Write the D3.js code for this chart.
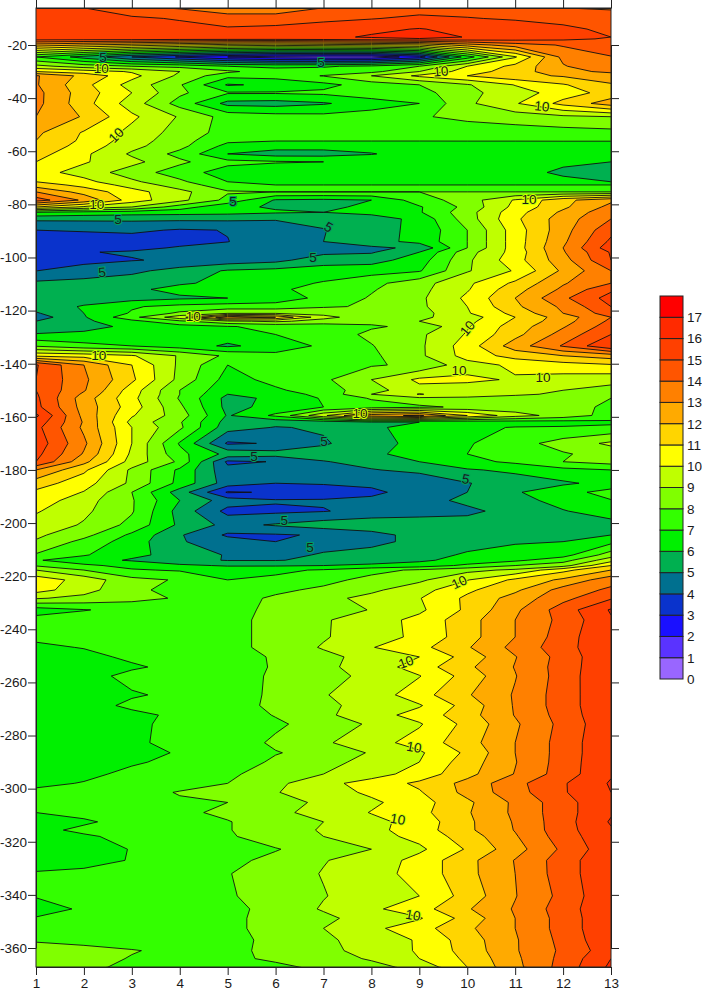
<!DOCTYPE html>
<html>
 <head>
  <meta charset="utf-8">
  <title>Contour plot</title>
  <style>
  body { margin: 0; background: #fff; }
  svg { display: block; }
  text { font-family: "Liberation Sans", Arial, sans-serif; font-size: 13.5px; fill: #1a1a1a; }
  .axis path, .axis line { stroke: #222; }
  </style>
  <script src="https://cdnjs.cloudflare.com/ajax/libs/d3/7.8.3/d3.min.js"></script>
 </head>
 <body>
  <script>
   // months along x, depth (m) of each grid row, one row of grid per depth
   const months = [1,2,3,4,5,6,7,8,9,10,11,12,13];
   const depths = [-6,-10,-14,-17,-17.7,-20,-24.5,-28,-30,-31.6,-35,-38,-42,-47,-53,-56,-58,-61,-64,-68,-71.5,-72.7,-75.3,-78.4,-81,-83,-85.5,-89.7,-94,-96.4,-98,-101,-105,-109.7,-112,-115.3,-118.5,-121,-122.5,-124,-126,-129,-133.3,-137,-140.5,-146,-150,-151.5,-153,-156.3,-159.5,-162,-164,-170,-174,-176.9,-180,-185,-188.4,-191.5,-195.5,-200.7,-204.5,-207,-212,-214,-216,-217.7,-221.4,-225.2,-228.3,-232.7,-236.5,-242.9,-246.8,-250.4,-254.2,-257.6,-264.7,-268.7,-272.3,-275.7,-282.7,-286.5,-290,-294.5,-298,-301.4,-305.2,-309,-312.5,-315.6,-318,-322.8,-327,-332,-340.4,-345.3,-348.8,-352.6,-357,-361,-364,-367.2];
   const grid = [
    [15.6,15,14.2,13.9,13.2,13.2,14,14.4,14.6,14.6,14.2,14,13.9],
    [15.8,15.5,15.2,14.9,14.6,14.6,14.8,14.95,15.2,15.05,14.9,14.7,14.4],
    [15.9,15.8,15.6,15.4,15.1,15.2,15.4,15.8,16.05,15.7,15.5,15.2,14.8],
    [15.9,15.8,15.7,15.6,15.5,15.5,15.8,16.1,16.4,15.95,15.7,15.3,15],
    [15.5,15.5,15.5,15.4,15.4,15.4,15.5,15.7,15.9,15.6,15.4,15.2,14.9],
    [12.5,12,11.5,11,10.5,10.3,10.5,10.7,11,12.5,13.5,14.1,14.6],
    [7,5.6,4,2.9,2,1.5,1.3,1.3,2.5,6.5,9.9,13.3,13.95],
    [9.3,8.5,8,7.7,7,6.8,6.9,7.2,8,10,11.3,12.9,14],
    [11,10.5,9.9,9,8.2,7.4,7.4,7.7,9,10.5,11.5,12.7,13.2],
    [13.1,11.7,10.3,8.8,7.3,7.4,8.05,9,10.2,11,11.7,12.1,12.5],
    [13.1,11.3,9.6,8.1,5.9,6.2,6.7,7.5,8,8.9,10.05,10.9,11.9],
    [13.3,11.5,10,8.2,7.1,7.1,7.2,7.6,7.6,8.75,9.5,10.5,11.4],
    [13.3,11.4,9.5,7.6,5.7,5.6,5.9,6.5,7,8.8,9.9,11.3,12.5],
    [13,11.9,10.2,8.9,7.6,7.4,7.3,7.5,7.9,8.25,8.5,8.8,9],
    [12.2,10.9,9.7,8.6,7.6,7.4,7.3,7.3,7.3,7.4,7.5,7.6,7.7],
    [12,10.8,9.5,8.4,7.2,7.05,7.05,7.05,7.05,7.05,7.05,7.05,7.05],
    [11.8,10.6,9.3,8.3,6.7,6.4,6.4,6.4,6.4,6.5,6.5,6.6,6.6],
    [11.4,10.2,8.85,7.7,6,5.6,5.6,5.95,6.4,6.5,6.5,6.5,6.4],
    [11,10.1,9.3,8.2,7.3,7.1,7,6.6,6.3,6.2,6.3,6.2,6],
    [10.4,9.6,8.5,7.5,6.5,6.2,6.2,6.2,6.2,6.2,6.4,5.8,5.3],
    [11,10.3,9.2,8.2,7,6.6,6.6,6.6,6.6,6.6,6.6,6.3,6],
    [11.5,10.7,9.6,8.5,7.4,7,7,7,7,7,7,7,7],
    [13,11.6,10.4,9.3,8.1,8,8,8,8,8,8,8,8],
    [14.5,12.8,10.5,9.3,7.7,5.9,5.8,6,7.5,8.5,10.1,11.7,12.8],
    [11,9.8,9,7.5,6.2,5.9,5.8,6.2,6.9,8.3,10.3,11.8,13.3],
    [7,6.7,6.5,6.4,6.3,6.1,6,6.3,6.9,8.6,10.6,12.2,13.7],
    [5.2,5.2,5.2,5.2,5.2,5.1,5.3,5.5,6.3,8.5,10.8,12.5,14],
    [4,4.1,4.2,3.9,4.03,4.3,4.95,5.7,6.2,8,10.5,12.6,14.7],
    [3.3,3.4,3.5,3.7,3.98,4.5,5,5.6,6.3,8,10.5,12.8,15.2],
    [3.3,3.5,3.75,4.1,4.3,4.5,4.7,4.8,5.2,8,10.5,13,15.6],
    [3.7,3.95,4.1,4.3,4.45,4.6,4.75,4.9,6,8.6,10.4,12.9,15.1],
    [3.6,3.8,3.95,4.15,4.4,4.7,5.6,5.6,6.5,8.8,10.6,12.6,15],
    [3.99,4.3,4.75,5.4,6.1,6.3,6.4,6.6,6.9,8.9,10.1,12.2,14],
    [5.2,5.4,5.6,5.9,6.2,6.6,7.1,7.7,8.6,9.8,11.2,12.9,14],
    [5.2,5.4,5.8,6.3,6.5,6.9,7.2,7.9,8.7,9.9,11.6,13.2,14.8],
    [5.3,5.5,5.6,5.85,6,6.4,7.3,8.1,8.8,10.2,12,13.8,15.4],
    [5.4,6.1,6.9,7.3,7.5,7.5,7.9,8.1,8.8,10,11.8,13.2,15],
    [4.9,6,7.1,8.2,8.9,8.9,8.7,8.3,8.6,9.9,11.3,13,14.5],
    [4.5,5.9,7.7,9.6,12.8,12,9.3,8.4,8.8,9.5,11,12.5,14],
    [5,5.8,6.7,7.8,8.8,9.2,8.6,8.2,9,9.7,11.2,12.6,14.2],
    [5.2,5.7,6.2,6.6,6.95,7.2,7.4,7.9,8.2,9.9,11.5,12.9,14.5],
    [6.1,6.2,6.3,6.4,6.5,7,7.5,8.2,8.8,10.1,11.7,13.4,15],
    [7.9,7.3,7,6.5,5.85,6.4,7.2,7.95,8.8,10.5,12.5,14.1,15.9],
    [10.8,10.6,10.1,8.9,7.8,7.3,7.2,7.8,8.8,10.4,11.4,12,12.5],
    [15.1,13,11,8.8,7,7.2,7.6,7.9,8.2,9.6,10.2,10.6,10.9],
    [15,13.2,11.2,8.7,6.6,7.3,7.8,9,10.2,10.2,9.9,9.6,9.4],
    [15,13.1,10.5,8,6.3,6.85,7.5,8.6,9.7,9.5,9.3,9,8.6],
    [15.1,12.8,10.4,8,6,6.5,7.3,9,10.05,9.5,9.2,8.8,8.4],
    [15.2,12.5,10.3,7.9,5.7,6.2,7.1,8.1,8.8,8.8,8.5,8.2,8],
    [15.3,12.6,10.5,8.2,5.7,6.3,7,7.5,7.8,8.2,8.4,8.2,7.9],
    [16.2,12.7,10.1,8.5,5.9,7.2,9.8,12.6,13.2,11,9.4,8.6,7.6],
    [15.6,12.9,9.7,8.1,5.6,5.3,5.4,5.95,6,6.3,6.5,6.6,6.8],
    [15.3,12.8,10,8.2,5.4,4.95,5.1,5.85,6.3,6.8,7.05,7.1,7.2],
    [15.6,13.2,10,6.9,3.85,4.1,4.9,5.5,6.4,6.9,7.6,8.4,9.2],
    [15.3,12.9,9.8,7.3,5.7,5.4,5.4,5.8,6.4,7,7.3,7.9,8.4],
    [15,12.3,9.6,7.8,3.8,4.05,4.95,5.3,6,6.7,7.2,8,8.4],
    [13,11.2,8.8,6.8,4.3,4.4,4.6,4.95,5.2,5.9,6.2,6.7,7],
    [11.5,10.4,8.8,6.7,4.5,4,4.1,4.2,4.4,4.95,5.5,5.85,6.3],
    [10.8,9.95,8,5.5,2.9,3.1,3.4,3.8,4.4,5,5.9,6.6,7.4],
    [10.6,9.4,8.1,6,4.5,4.1,4.1,4.2,4.5,5.3,5.7,6.3,6.95],
    [10.1,9.2,8.1,5.6,3.7,3.8,3.95,4.3,4.55,4.7,5.5,5.95,6.4],
    [9.6,8.9,7.7,5.8,4.7,5.1,5.5,5.7,5.6,5.6,5.7,5.8,5.7],
    [9.2,8.3,6.8,5.1,3.85,3.9,4.1,4.6,5.4,5.7,5.8,5.9,6],
    [8.9,7.7,6.5,5.1,4.4,4,4.6,4.7,5.3,5.7,5.9,6,6.7],
    [7.9,7.1,6.2,5.7,4.9,4.7,5.1,5.4,5.7,6.1,6.4,6.6,8.5],
    [7.1,6.4,5.9,5.3,4.95,4.95,5.2,5.5,5.8,6.4,6.8,7.6,9.6],
    [7.9,7.2,6.7,6.2,5.9,5.9,6,6.2,6.5,7.2,8,8.6,11],
    [9,8,7.1,6.9,6.7,6.8,7.1,7.7,8.15,8.7,9.2,10.7,12],
    [10.6,9.6,8.3,7.9,7,7.2,7.7,8.3,8.8,9.95,11.2,12.2,13.6],
    [10.4,9.4,8.2,7.7,7.4,7.8,8.2,8.8,9.6,10.8,11.8,13.4,14.2],
    [9.1,8.7,8.3,7.9,7.6,8.15,8.7,9.3,9.95,11.2,12.4,13.7,14.9],
    [6.5,6.95,7.3,7.5,7.7,8.2,8.5,9.05,9.8,11.2,12.8,14.5,16.1],
    [7.4,7.5,7.6,7.7,7.8,8.2,8.9,9.5,10.3,11.6,13,14.3,15.9],
    [7.2,7.3,7.4,7.5,7.7,8.3,8.9,9.6,10.2,11.6,13,14.5,16],
    [6.8,7.05,7.3,7.5,7.7,8.3,9.1,9.95,10.7,11.9,13.3,14.6,15.9],
    [6.5,6.7,7.2,7.4,7.6,8.1,8.7,9.4,10,11.4,12.95,14.4,15.9],
    [6.3,6.5,6.85,7.3,7.5,8.1,8.8,9.4,10.5,11.8,13.05,14.45,15.9],
    [6.3,6.6,7.3,7.5,7.7,8.1,8.6,9.3,9.95,11.4,12.95,14.45,16],
    [6.4,6.6,6.9,7.2,7.5,8.2,8.95,9.4,10.6,11.9,13.1,14.5,15.9],
    [6.3,6.6,7.2,7.4,7.6,8.2,8.7,9.5,9.9,11.4,13.1,14.5,15.9],
    [6.3,6.5,6.75,7.2,7.5,8.05,8.8,9.55,10.4,11.6,13.05,14.4,15.9],
    [6.2,6.4,6.85,7.2,7.4,7.85,8.4,9.15,9.9,11.3,12.85,14.3,15.8],
    [6.2,6.4,6.85,7.25,7.5,8.15,8.85,9.6,10.4,11.6,13,14.4,15.9],
    [6.1,6.3,6.6,7.1,7.4,7.95,8.3,9.1,9.85,11.2,13,14.4,15.9],
    [6.2,6.4,6.9,7.2,7.5,8.15,8.7,9.3,10,11.5,12.95,14.45,15.9],
    [6.5,6.8,7.2,7.5,7.8,8.5,9,9.6,10.4,11.7,13.05,14.5,15.9],
    [6.8,7.05,7.5,7.7,8,8.75,9.7,10.4,11.2,12.3,13.7,14.9,16.1],
    [7.2,7.4,7.7,8.05,8.4,8.95,9.5,10.2,10.9,12.3,13.6,14.9,16],
    [7.3,7.5,7.8,7.9,8,8.6,9.2,9.8,10.6,11.8,13.2,14.6,15.9],
    [7,7.2,7.5,7.8,8.2,8.8,9.3,10.05,10.7,11.9,13.2,14.6,15.9],
    [6.7,6.9,7.25,7.6,7.95,8.5,9,9.7,10.4,11.8,13.1,14.6,16.1],
    [6.8,7.15,7.4,7.7,7.95,8.5,9.1,9.7,10.5,11.8,13.05,14.6,15.9],
    [6.7,6.9,7.2,7.6,7.9,8.4,9,9.6,10.3,11.5,12.9,14.5,15.8],
    [6.4,6.5,7.05,7.3,7.6,7.95,8.4,9,9.8,11.1,12.6,14.2,15.7],
    [6.5,6.7,7.05,7.3,7.8,8.2,8.95,9.4,10.35,11.7,13.05,14.5,15.9],
    [7.1,7.2,7.3,7.55,7.95,8.55,9.05,9.6,10.35,11.7,13,14.5,15.9],
    [7.1,7.4,7.5,7.7,7.9,8.4,8.95,9.5,10,11.4,12.95,14.3,15.9],
    [6.4,7.2,7.4,7.5,7.7,8.35,9.1,9.8,10.6,11.9,13.1,14.5,15.9],
    [7.1,7.2,7.4,7.6,7.8,8.3,8.75,9.5,9.9,11.4,13,14.4,15.9],
    [7.2,7.3,7.4,7.5,7.8,8.3,9,9.75,10.6,11.8,13,14.4,15.9],
    [7.9,7.7,7.6,7.6,7.7,8.25,8.8,9.45,10.1,11.5,12.9,14.3,15.8],
    [8.4,8.3,8.05,7.8,7.8,8.2,8.7,9.4,10.1,11.4,12.9,14.2,15.6],
    [8.5,8.3,7.95,7.75,7.8,8.15,8.6,9.1,10,11.2,12.8,14.3,16],
    [8.6,8.1,7.9,7.7,7.6,7.8,8.2,8.7,9.3,11,12.7,14.4,16.2]
   ];

   const levels = d3.range(0, 18);
   const levelColors = ["#9966ff","#5a33ff","#1a10ff","#0a33cc","#00708f","#00b050","#00f000","#33ff00","#80ff00","#bfff00","#ffff00","#ffd500","#ffaa00","#ff8000","#ff5500","#ff4000","#ff2a00","#ff0000"];
   const depthTicks = d3.range(-20, -361, -20);

   // contour labels: [month, depth, text, rotation]
   const contourLabels = [
    [2.4,-24.5,"5",0],[2.36,-28.7,"10",0],[6.95,-26.4,"5",0],[9.45,-29.8,"10",-5],[11.56,-43,"10",5],
    [2.67,-53.9,"10",-45],[2.27,-79.9,"10",0],[2.71,-85.5,"5",0],[5.11,-78.7,"5",0],[11.29,-78,"10",0],
    [7.11,-88.5,"5",30],[6.78,-99.8,"5",0],[2.38,-105.5,"5",-5],[4.28,-122,"10",0],[10,-126.6,"10",-50],
    [2.31,-136.7,"10",0],[9.83,-142.4,"10",0],[11.58,-145,"10",0],[7.76,-158.6,"10",0],[7.01,-169.1,"5",0],
    [5.55,-174.7,"5",0],[9.97,-183.4,"5",10],[6.18,-198.8,"5",0],[6.72,-209,"5",0],[9.83,-222.2,"10",-25],
    [8.72,-252.3,"10",-20],[8.89,-284.3,"10",10],[8.55,-311.4,"10",10],[8.87,-347.6,"10",10]
   ];

   const w = 702;
   const h = 991;
   const plotLeft = 36, plotRight = 611, plotTop = 8, plotBottom = 967;

   const x = d3.scaleLinear().domain([1, 13]).range([plotLeft, plotRight]);
   const y = d3.scaleLinear().domain([-20, -360]).range([45, 948]);
   // grid row index -> depth, rows are not evenly spaced
   const rowDepth = d3.scaleLinear().domain(d3.range(depths.length)).range(depths);

   const svg = d3.select("body").append("svg").attr("width", w).attr("height", h);

   svg.append("clipPath").attr("id", "plot")
      .append("rect")
      .attr("x", plotLeft).attr("y", plotTop)
      .attr("width", plotRight - plotLeft).attr("height", plotBottom - plotTop);

   // d3.contours puts grid point i at i + 0.5
   const path = d3.geoPath(d3.geoTransform({
    point: function(gx, gy) {
     this.stream.point(x(months[0] + gx - 0.5), y(rowDepth(gy - 0.5)));
    }
   }));

   const bands = d3.contours()
                   .size([months.length, depths.length])
                   .thresholds(levels)(grid.flat());

   svg.append("g")
      .attr("clip-path", "url(#plot)")
      .selectAll("path")
      .data(bands)
      .enter()
      .append("path")
      .attr("d", path)
      .attr("fill", (d, i) => levelColors[i])
      .attr("stroke", "#111")
      .attr("stroke-width", 0.9)
      .attr("stroke-linejoin", "round");

   // labels sit on their contour, the halo breaks the line like the original
   svg.append("g")
      .selectAll("text")
      .data(contourLabels)
      .enter()
      .append("text")
      .attr("transform", d => "translate(" + x(d[0]) + "," + y(d[1]) + ") rotate(" + d[3] + ")")
      .attr("text-anchor", "middle")
      .attr("dy", "0.36em")
      .attr("paint-order", "stroke")
      .attr("stroke", d => d[2] === "5" ? "#00a060" : "#d0ff00")
      .attr("stroke-width", 2)
      .text(d => d[2]);

   // frame and ticks on all four sides
   svg.append("g").attr("class", "axis")
      .attr("transform", "translate(" + plotLeft + ",0)")
      .call(d3.axisLeft(y).tickValues(depthTicks).tickSize(8).tickPadding(1).tickSizeOuter(0).tickFormat(d => d));
   svg.append("g").attr("class", "axis")
      .attr("transform", "translate(" + plotRight + ",0)")
      .call(d3.axisRight(y).tickValues(depthTicks).tickSize(8).tickSizeOuter(0).tickFormat(""));
   svg.append("g").attr("class", "axis")
      .attr("transform", "translate(0," + plotBottom + ")")
      .call(d3.axisBottom(x).tickValues(months).tickSize(8).tickPadding(3).tickSizeOuter(0).tickFormat(d => d));
   svg.append("g").attr("class", "axis")
      .attr("transform", "translate(0," + plotTop + ")")
      .call(d3.axisTop(x).tickValues(months).tickSize(8).tickSizeOuter(0).tickFormat(""));
   svg.selectAll(".axis").attr("font-family", null).attr("font-size", null);
   svg.append("rect")
      .attr("x", plotLeft).attr("y", plotTop)
      .attr("width", plotRight - plotLeft).attr("height", plotBottom - plotTop)
      .attr("fill", "none").attr("stroke", "#222");

   // colour key
   const key = d3.scaleLinear().domain([0, 18]).range([679, 296]);
   const legend = svg.append("g").attr("id", "legend");
   legend.selectAll("rect")
         .data(levels)
         .enter()
         .append("rect")
         .attr("x", 660)
         .attr("y", d => key(d + 1))
         .attr("width", 23)
         .attr("height", d => key(d) - key(d + 1))
         .attr("fill", d => levelColors[d])
         .attr("stroke", "#222")
         .attr("stroke-width", 1);
   legend.selectAll("text")
         .data(levels)
         .enter()
         .append("text")
         .attr("x", 687)
         .attr("y", d => key(d))
         .attr("dy", "0.36em")
         .text(d => d);
  </script>
 </body>
</html>
